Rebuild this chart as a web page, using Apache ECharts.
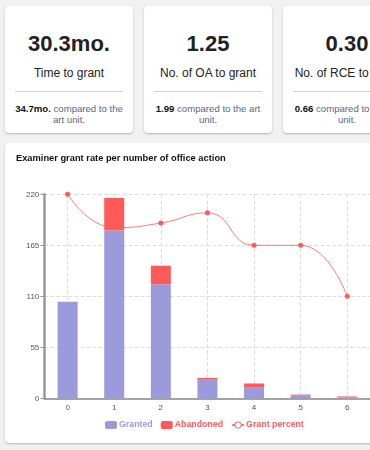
<!DOCTYPE html>
<html>
<head>
<meta charset="utf-8">
<script src="https://cdn.jsdelivr.net/npm/echarts@6/dist/echarts.min.js"></script>
<style>
  html, body { margin: 0; padding: 0; width: 370px; height: 450px; overflow: hidden; background: #f1f1f1;
    font-family: "Liberation Sans", Arial, Helvetica, sans-serif; }
  .card { position: absolute; background: #fff; border-radius: 4px; box-shadow: 0 1px 2px rgba(0,0,0,0.25); }
  .kpi { top: 6px; width: 128px; height: 127px; text-align: center; }
  .kpi .big { position: absolute; left: 0; right: 0; top: 25px; font-size: 22px; font-weight: bold; color: #222; line-height: 26px; }
  .kpi .lbl { position: absolute; left: 0; right: 0; top: 60px; font-size: 12px; color: #222; line-height: 14px; }
  .kpi .div { position: absolute; left: 10px; right: 10px; top: 85px; border-top: 1px solid #d0d0d0; }
  .kpi .cmp { position: absolute; left: 6px; right: 6px; top: 97px; font-size: 9.6px; line-height: 11px; color: #5a6784; }
  .kpi .cmp b { color: #111; }
  #chartCard { left: 5px; top: 143px; width: 400px; height: 300px; }
  #chart { position: absolute; left: 0; top: 0; width: 400px; height: 300px; }
</style>
</head>
<body>
<div class="card kpi" style="left:5px;">
  <div class="big">30.3mo.</div>
  <div class="lbl">Time to grant</div>
  <div class="div"></div>
  <div class="cmp"><b>34.7mo.</b> compared to the art unit.</div>
</div>
<div class="card kpi" style="left:144px;">
  <div class="big">1.25</div>
  <div class="lbl">No. of OA to grant</div>
  <div class="div"></div>
  <div class="cmp"><b>1.99</b> compared to the art unit.</div>
</div>
<div class="card kpi" style="left:283px;">
  <div class="big">0.30</div>
  <div class="lbl">No. of RCE to grant</div>
  <div class="div"></div>
  <div class="cmp"><b>0.66</b> compared to the art unit.</div>
</div>
<div class="card" id="chartCard"><div id="chart"></div></div>
<script>
const categories = ['0', '1', '2', '3', '4', '5', '6'];
const granted = [104, 181, 123, 20, 12, 3, 1];
const abandoned = [0, 35, 20, 2, 4, 1, 1];
const grantPercent = [220, 184, 189, 200, 165, 165, 110];
const yTicks = [0, 55, 110, 165, 220];

const colGranted = '#9b9bdb';
const colAband = '#ff5a5a';

const chart = echarts.init(document.getElementById('chart'), null, { renderer: 'canvas' });
chart.setOption({
  animation: false,
  textStyle: { fontFamily: 'Liberation Sans, Arial, sans-serif' },
  title: {
    text: 'Examiner grant rate per number of office action',
    left: 11, top: 10.5, padding: 0,
    textStyle: { fontSize: 9.3, fontWeight: 'bold', color: '#111' }
  },
  grid: { left: 39.3, top: 51.3, width: 326.3, height: 204, containLabel: false },
  legend: {
    left: 100, top: 277.5, padding: 0,
    itemWidth: 12, itemHeight: 8, itemGap: 8,
    textStyle: { fontSize: 8.8, fontWeight: 'bold', padding: [0, 0, 0, -3] },
    data: [
      { name: 'Granted', textStyle: { color: colGranted } },
      { name: 'Abandoned', textStyle: { color: colAband } },
      { name: 'Grant percent', textStyle: { color: colAband },
        itemStyle: { color: '#fff', borderColor: colAband, borderWidth: 1 } }
    ]
  },
  xAxis: {
    type: 'category',
    data: categories,
    axisLine: { lineStyle: { color: '#888', width: 1.5 } },
    axisTick: { alignWithLabel: true, length: 3, lineStyle: { color: '#aaa' } },
    axisLabel: { fontSize: 8, color: '#555', margin: 5 },
    splitLine: { show: true, alignWithLabel: true, lineStyle: { type: 'dashed', color: '#ddd' } }
  },
  yAxis: {
    type: 'value',
    min: yTicks[0], max: yTicks[yTicks.length - 1], interval: 55,
    axisLine: { show: true, lineStyle: { color: '#999', width: 2.5 } },
    axisTick: { show: true, length: 4, lineStyle: { color: '#999' } },
    axisLabel: { fontSize: 8, color: '#555', margin: 5 },
    splitLine: { lineStyle: { type: 'dashed', color: '#ddd' } }
  },
  series: [
    {
      name: 'Granted', type: 'bar', stack: 'total', barWidth: 20, z: 3,
      itemStyle: { color: colGranted },
      data: granted
    },
    {
      name: 'Abandoned', type: 'bar', stack: 'total', barWidth: 20, z: 3,
      itemStyle: { color: colAband },
      data: abandoned
    },
    {
      name: 'Grant percent', type: 'line', smooth: true, z: 1,
      symbol: 'circle', symbolSize: 5,
      lineStyle: { color: 'rgba(255,90,90,0.8)', width: 1 },
      itemStyle: { color: colAband },
      data: grantPercent
    }
  ]
});
</script>
</body>
</html>
